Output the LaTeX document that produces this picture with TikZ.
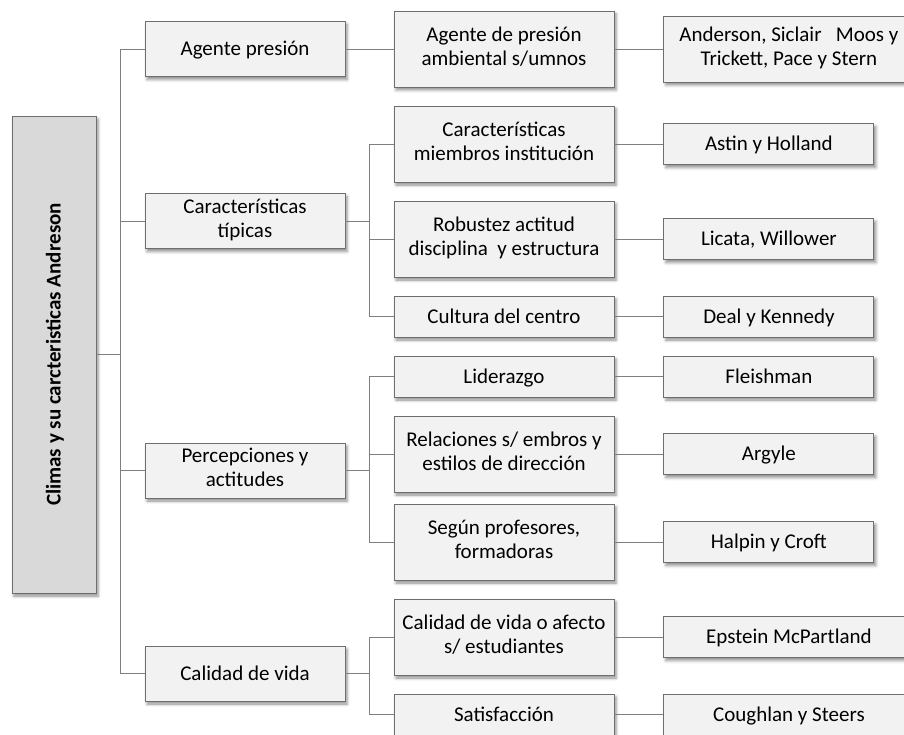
\documentclass[tikz,border=0pt]{standalone}
\usepackage{fontspec}
\setmainfont{Carlito}
\usetikzlibrary{positioning,shadows.blur}

\definecolor{boxline}{HTML}{6E6E6E}
\definecolor{boxfill}{HTML}{F2F2F2}
\definecolor{rootfill}{HTML}{D9D9D9}
\definecolor{linkgray}{HTML}{7F7F7F}
\newcommand\boxstrut{\rule[-5.5pt]{0pt}{24pt}}

\begin{document}
\begin{tikzpicture}[
  x=1pt, y=-1pt,
  font=\fontsize{21}{24}\selectfont,
  node distance=49pt,
  box/.style={draw=boxline, line width=0.9pt, fill=boxfill, align=center, inner sep=2pt,
    execute at begin node=\boxstrut, execute at end node=\boxstrut,
    blur shadow={shadow xshift=2pt, shadow yshift=-3pt, shadow blur radius=3pt, shadow opacity=45}},
  lvlone/.style={box, minimum width=200pt, minimum height=55pt},
  lvltwo/.style={box, minimum width=220pt, minimum height=41pt},
  lvlthree/.style={box, minimum width=210pt, minimum height=41pt},
  tall/.style={minimum height=76pt},
  wide/.style={minimum width=250pt},
  link/.style={draw=linkgray, line width=0.9pt}
]
\useasboundingbox (0,0) rectangle (904,735);

% Root, turned on its side
\node[box, fill=rootfill, rotate=90, minimum width=477pt, minimum height=84pt,
  font=\fontsize{21}{24}\selectfont\bfseries] (root) at (54,354.5) {Climas y su carcteristicas Andreson};

% First level
\node[lvlone] (a1) at (245,49) {Agente presión};
\node[lvlone] (a2) at (245,221) {Características\\típicas};
\node[lvlone] (a3) at (245,470.5) {Percepciones y\\actitudes};
\node[lvlone] (a4) at (245,673.5) {Calidad de vida};

% Second level
\node[lvltwo, tall] (b1) at (504,49) {Agente de presión\\ambiental s/umnos};
\node[lvltwo, tall] (b2) at (504,144) {Características\\miembros institución};
\node[lvltwo, tall] (b3) at (504,239) {Robustez actitud\\disciplina\ \ y estructura};
\node[lvltwo] (b4) at (504,316.5) {Cultura del centro};
\node[lvltwo] (b5) at (504,376.5) {Liderazgo};
\node[lvltwo, tall] (b6) at (504,454) {Relaciones s/ embros y\\estilos de dirección};
\node[lvltwo, tall] (b7) at (504,542) {Según profesores,\\formadoras};
\node[lvltwo, tall] (b8) at (504,637) {Calidad de vida o afecto\\s/ estudiantes};
\node[lvltwo] (b9) at (504,714.5) {Satisfacción};

% Authors
\node[lvlthree, wide, minimum height=66pt, right=of b1] (c1) {Anderson, Siclair\ \ \ Moos y\\Trickett, Pace y Stern};
\node[lvlthree, right=of b2] (c2) {Astin y Holland};
\node[lvlthree, right=of b3] (c3) {Licata, Willower};
\node[lvlthree, right=of b4] (c4) {Deal y Kennedy};
\node[lvlthree, right=of b5] (c5) {Fleishman};
\node[lvlthree, right=of b6] (c6) {Argyle};
\node[lvlthree, right=of b7] (c7) {Halpin y Croft};
\node[lvlthree, wide, right=of b8] (c8) {Epstein McPartland};
\node[lvlthree, wide, right=of b9] (c9) {Coughlan y Steers};

\foreach \n in {a1,a2,a3,a4}
  \draw[link] (root.south) -- ++(24,0) |- (\n.west);
\draw[link] (a1.east) -- (b1.west);
\foreach \n in {b2,b3,b4}
  \draw[link] (a2.east) -- ++(24,0) |- (\n.west);
\foreach \n in {b5,b6,b7}
  \draw[link] (a3.east) -- ++(24,0) |- (\n.west);
\foreach \n in {b8,b9}
  \draw[link] (a4.east) -- ++(24,0) |- (\n.west);
\foreach \i in {1,...,9}
  \draw[link] (b\i.east) -- (c\i.west);

\end{tikzpicture}
\end{document}
